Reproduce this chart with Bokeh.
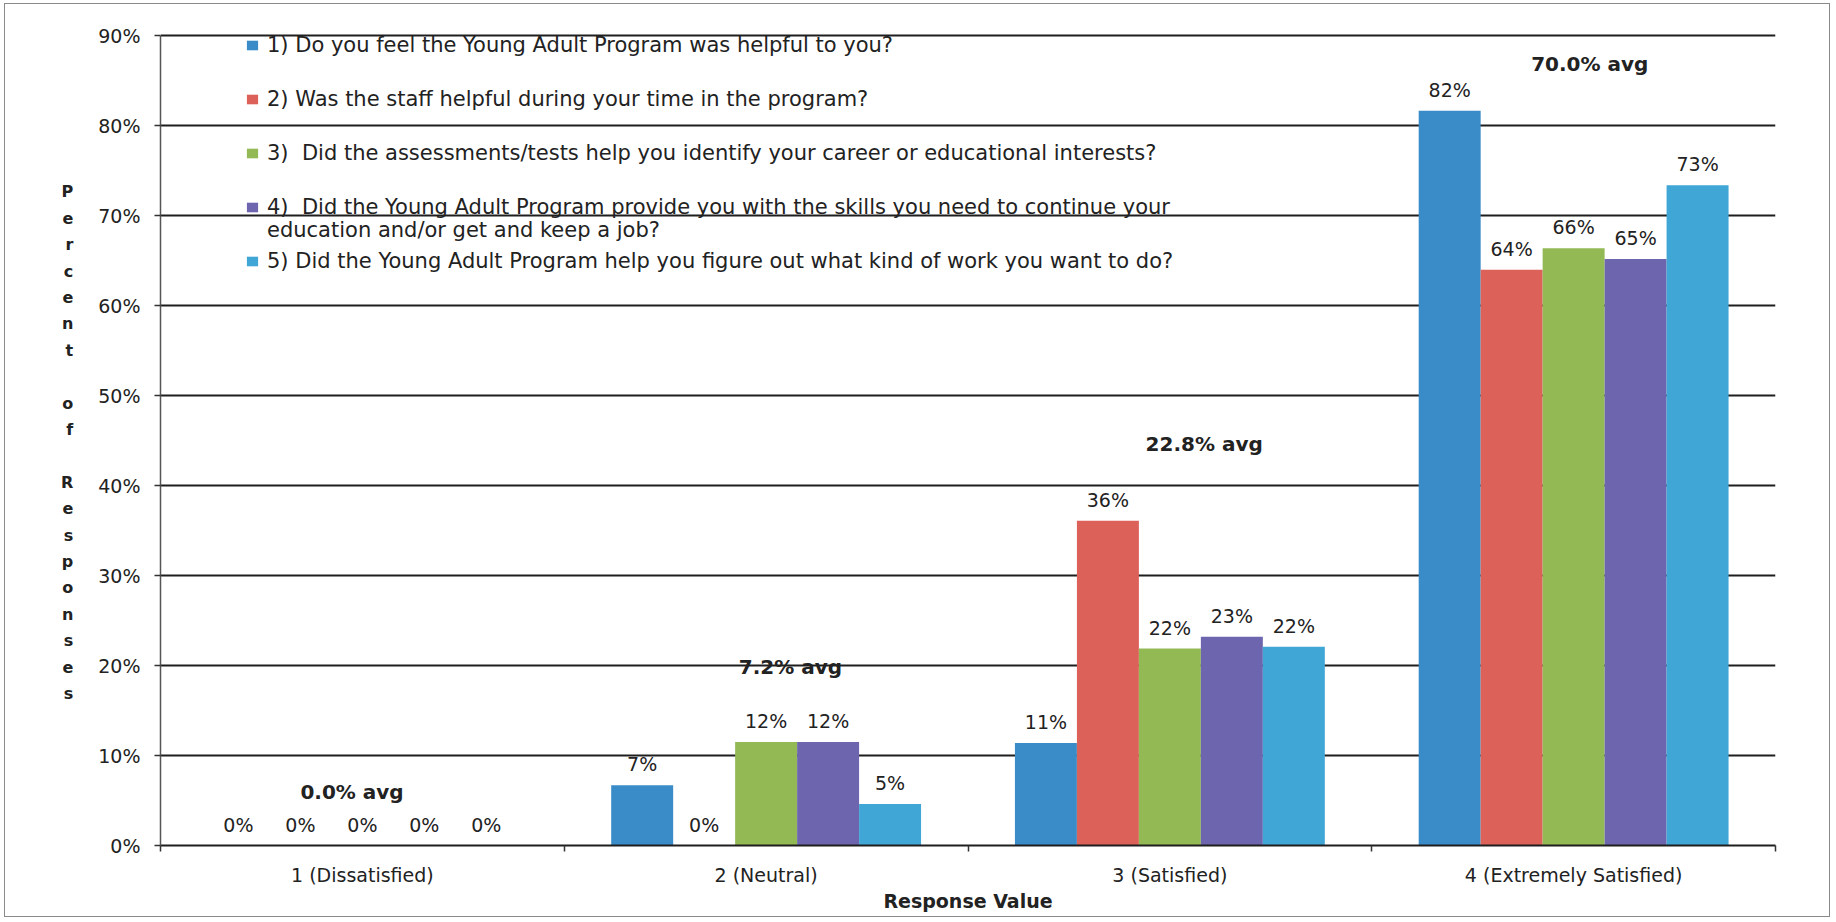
from bokeh.plotting import figure
from bokeh.models import (Range1d, FixedTicker, PrintfTickFormatter, Legend,
                          LegendItem, ColumnDataSource)
from bokeh.core.properties import value
from bokeh.embed import file_html
from bokeh.resources import INLINE
import numpy as np

# ---------------- data ----------------
categories = ["1 (Dissatisfied)", "2 (Neutral)", "3 (Satisfied)", "4 (Extremely Satisfied)"]
questions = [
    "1) Do you feel the Young Adult Program was helpful to you?",
    "2) Was the staff helpful during your time in the program?",
    "3)  Did the assessments/tests help you identify your career or educational interests?",
    "4)  Did the Young Adult Program provide you with the skills you need to continue your\neducation and/or get and keep a job?",
    "5) Did the Young Adult Program help you figure out what kind of work you want to do?",
]
q1_values = [0.0, 6.7, 11.4, 81.7]
q2_values = [0.0, 0.0, 36.1, 64.0]
q3_values = [0.0, 11.5, 21.9, 66.4]
q4_values = [0.0, 11.5, 23.2, 65.2]
q5_values = [0.0, 4.6, 22.1, 73.4]
q1_labels = [0, 7, 11, 82]
q2_labels = [0, 0, 36, 64]
q3_labels = [0, 12, 22, 66]
q4_labels = [0, 12, 23, 65]
q5_labels = [0, 5, 22, 73]
y_ticks = [0, 10, 20, 30, 40, 50, 60, 70, 80, 90]
colors = ["#3a8cc8", "#dc6158", "#93b955", "#6d66ae", "#40a6d6"]

series_values = [q1_values, q2_values, q3_values, q4_values, q5_values]
series_labels = [q1_labels, q2_labels, q3_labels, q4_labels, q5_labels]

FONT = "DejaVu Sans"
TXT = "#222222"

W, H = 1826, 914
p = figure(width=W, height=H, output_backend="svg", toolbar_location=None,
           x_range=Range1d(0, len(categories)), y_range=Range1d(0, 92.5),
           min_border_left=155, min_border_top=9, min_border_right=56,
           min_border_bottom=73)
p.outline_line_color = None
p.background_fill_color = "white"
p.border_fill_color = "white"
p.styles = {"border": "1.5px solid #8a8a8a", "margin": "3px 0px 0px 4px"}

# grid
p.xgrid.grid_line_color = None
p.ygrid.grid_line_color = "#1e1e1e"
p.ygrid.grid_line_width = 1.8
p.ygrid.ticker = FixedTicker(ticks=y_ticks)

# y axis
p.yaxis.ticker = FixedTicker(ticks=y_ticks)
p.yaxis.bounds = (0, 90)
p.yaxis.formatter = PrintfTickFormatter(format="%d%%")
p.yaxis.axis_line_color = "#555555"
p.yaxis.axis_line_width = 1.5
p.yaxis.major_tick_line_color = "#333333"
p.yaxis.major_tick_line_width = 1.5
p.yaxis.major_tick_out = 6
p.yaxis.major_tick_in = 0
p.yaxis.minor_tick_line_color = None
p.yaxis.major_label_text_font = FONT
p.yaxis.major_label_text_font_size = "19px"
p.yaxis.major_label_text_color = TXT
p.yaxis.major_label_standoff = 14
# stacked letters; a leading blank line centres the column on the 0-90% span
p.yaxis.axis_label = "\n".join([" "] + list("Percent of Responses"))
p.yaxis.axis_label_orientation = "horizontal"
p.yaxis.axis_label_text_font = FONT
p.yaxis.axis_label_text_font_style = "bold"
p.yaxis.axis_label_text_font_size = "16px"
p.yaxis.axis_label_text_line_height = 1.39
p.yaxis.axis_label_text_color = TXT
p.yaxis.axis_label_standoff = 22

# x axis: labels at category centres, ticks at boundaries
centers = np.arange(len(categories)) + 0.5
bounds = np.arange(len(categories) + 1)
p.xaxis.ticker = FixedTicker(ticks=list(centers), minor_ticks=list(bounds))
p.xaxis.major_label_overrides = {float(c): lab for c, lab in zip(centers, categories)}
p.xaxis.axis_line_color = "#1e1e1e"
p.xaxis.axis_line_width = 2
p.xaxis.major_tick_line_color = None
p.xaxis.major_tick_out = 0
p.xaxis.major_tick_in = 0
p.xaxis.minor_tick_line_color = "#333333"
p.xaxis.minor_tick_line_width = 1.5
p.xaxis.minor_tick_out = 6
p.xaxis.minor_tick_in = 0
p.xaxis.major_label_text_font = FONT
p.xaxis.major_label_text_font_size = "19px"
p.xaxis.major_label_text_color = TXT
p.xaxis.major_label_standoff = 12
p.xaxis.axis_label = "Response Value"
p.xaxis.axis_label_text_font = FONT
p.xaxis.axis_label_text_font_style = "bold"
p.xaxis.axis_label_text_font_size = "19px"
p.xaxis.axis_label_text_color = TXT
p.xaxis.axis_label_standoff = 1

# bars
bar_w = 0.1535
renderers = []
for j, (vals, labs, col) in enumerate(zip(series_values, series_labels, colors)):
    xs = centers + (j - 2) * bar_w
    src = ColumnDataSource(dict(x=xs, top=vals, lab=[f"{v}%" for v in labs]))
    r = p.vbar(x="x", top="top", width=bar_w, source=src, fill_color=col,
               line_color=None)
    p.text(x="x", y="top", text="lab", source=src, text_align="center",
           text_baseline="bottom", y_offset=-10, text_font=value(FONT),
           text_font_size="19px", text_color=TXT)
    renderers.append(r)

# averages (computed from the rounded labels)
avgs = [np.mean([s[i] for s in series_labels]) for i in range(len(categories))]
avg_sep = ["  ", " ", " ", " "]
avg_x = [0.483, 1.56, 2.585, 3.54]
avg_y = [5.9, 19.9, 44.6, 86.9]
avg_src = ColumnDataSource(dict(x=avg_x, y=avg_y,
                                t=[f"{a:.1f}%{s}avg" for a, s in zip(avgs, avg_sep)]))
p.text(x="x", y="y", text="t", source=avg_src, text_align="center",
       text_baseline="middle", text_font=value(FONT), text_font_style="bold",
       text_font_size="20px", text_color=TXT)

# legend (question 4 wraps onto a second line without its own marker)
blank = p.vbar(x=[], top=[], width=bar_w, fill_alpha=0, line_alpha=0)
q4_first, q4_second = questions[3].split("\n")


def make_legend(its, loc, spacing):
    lg = Legend(items=its, location=loc, orientation="vertical")
    lg.padding = 0
    lg.margin = 0
    lg.spacing = spacing
    lg.label_height = 24
    lg.glyph_height = 12
    lg.glyph_width = 14
    lg.label_standoff = 8
    lg.label_text_font = FONT
    lg.label_text_font_size = "21px"
    lg.label_text_color = TXT
    lg.border_line_color = None
    lg.background_fill_alpha = 0
    return lg


legend_a = make_legend([LegendItem(label=questions[0], renderers=[renderers[0]]),
                        LegendItem(label=questions[1], renderers=[renderers[1]]),
                        LegendItem(label=questions[2], renderers=[renderers[2]]),
                        LegendItem(label=q4_first, renderers=[renderers[3]])],
                       (85, 626), 30)
legend_c = make_legend([LegendItem(label=q4_second, renderers=[blank])], (85, 603), 0)
legend_b = make_legend([LegendItem(label=questions[4], renderers=[renderers[4]])],
                       (85, 572), 0)
for lg in (legend_a, legend_c, legend_b):
    p.add_layout(lg)

open("out.html", "w").write(file_html(p, INLINE))
